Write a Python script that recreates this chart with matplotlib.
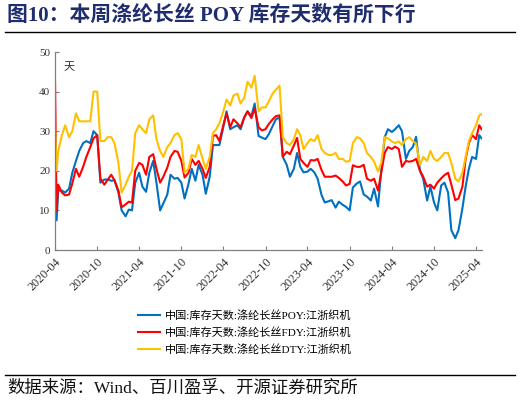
import pandas as pd
import numpy as np
import matplotlib
matplotlib.use("Agg")
import matplotlib.pyplot as plt
from matplotlib.lines import Line2D

plt.rcParams['font.family'] = ['Liberation Serif', 'Noto Sans CJK SC']

# dates: first point, one week later, then semi-monthly, last week
dates = pd.to_datetime(
    ["2020-04-01", "2020-04-08"]
    + [str(d.date()) for d in pd.date_range("2020-04-15", "2025-04-15", freq="SMS")]
    + ["2025-04-25"]
)

poy = [12, 7.5,
       15, 15, 14.5, 15.5, 19.5, 22.5, 25, 27, 27.5, 27,
       30, 29, 17, 17.8, 17.8, 17.5, 17.6, 14.5, 10, 8.5,
       10.2, 10, 17, 19.5, 16, 14.7, 19.5, 22.5, 17, 10,
       11.8, 14, 19, 18, 18.2, 17, 13, 16.7, 20.5, 17.5,
       21.5, 19, 14.2, 18.5, 26.5, 26.5, 26.5, 31, 35, 30.5,
       31, 31.5, 30.5, 33.5, 35, 33.8, 37, 28.8, 28.4, 28,
       29.2, 31.3, 33, 33.5, 23.5, 21.5, 18.5, 20.5, 24.5, 21,
       19.6, 19.8, 20.5, 19.6, 18, 13.9, 12, 12.3, 12.6, 10.7,
       12.2, 11.4, 10.9, 10, 15.8, 16.8, 17.3, 14, 13.5, 12.5,
       15.5, 11, 20, 28.5, 30.5, 29.8, 30.5, 31.5, 30, 23,
       25, 26, 28.6, 20, 18, 12.5, 16, 12, 10, 16.3,
       17, 14.5, 5, 3, 5, 10.5, 16, 20.5, 23.5, 23,
       29, 28.2]

fdy = [43, 10,
       16.5, 14.5, 13.8, 14, 16.8, 20.5, 18.5, 21, 23.5, 26,
       28.2, 29, 18, 16.5, 17.7, 19, 17.6, 15, 10.8, 11.5,
       12.2, 12, 20, 22, 21.5, 19, 23.5, 24.2, 20.5, 17,
       18.5, 20.8, 23.5, 25, 24.8, 22.5, 18.3, 19.5, 23, 21.5,
       22.5, 20.5, 18.2, 21, 28.8, 29, 27.5, 31.5, 34.5, 31,
       33, 32, 31, 33.5, 35, 33.3, 35.8, 31, 30.2, 30.5,
       31.8, 33, 33.8, 34, 23.6, 24.8, 24.2, 26.4, 28.3, 23,
       22, 21, 22.7, 22.6, 23, 20.2, 18.5, 18.5, 18.5, 18.8,
       18.2, 17.3, 16.3, 16.7, 21.4, 21, 21, 21.5, 18, 17.5,
       18, 15, 19.5, 24.5, 26, 25.5, 26.1, 25.5, 21, 22.5,
       22.3, 22.5, 23, 20, 18.5, 16, 16.5, 15.5, 17, 18.1,
       18.9, 19.5, 16.5, 12.6, 13, 16, 23, 27, 29, 28,
       31.5, 30.5]

dty = [32, 20,
       25, 29, 31.5, 28.5, 30, 34.5, 32.5, 32.5, 32.5, 32.5,
       40, 40, 27.5, 27.5, 28.5, 28.5, 27, 22, 14.5, 16.5,
       18.5, 20, 29.5, 31.5, 30.5, 29.5, 33, 34, 28, 25,
       23.5, 26, 27, 29, 29.5, 28, 19.5, 20.5, 24, 23.5,
       26.5, 23, 20.5, 23.5, 29.5, 30.5, 32, 35, 38, 36.5,
       39, 39.5, 37, 38.5, 42.5, 41, 44, 35, 36, 36,
       37.5, 39.5, 40.5, 41.5, 28.5, 27, 26.5, 28, 30.5, 29,
       25.5, 27, 28, 27.5, 29, 25.5, 24.5, 24, 24, 24.5,
       23, 23, 22.3, 22.5, 27, 28.5, 28.2, 27, 24.5, 23.5,
       22.3, 19.8, 22, 28.5, 28.2, 27.4, 27, 27.4, 26.5, 28,
       28.5, 27.5, 26.9, 21.5, 23.5, 22.5, 25, 23, 22.5, 23.5,
       24.5, 24.5, 22, 18, 17.3, 19.5, 23.5, 27.5, 29.5, 31.5,
       34, 34.3]

labels = ["中国:库存天数:涤纶长丝POY:江浙织机",
          "中国:库存天数:涤纶长丝FDY:江浙织机",
          "中国:库存天数:涤纶长丝DTY:江浙织机"]
colors = ["#0070C0", "#FF0000", "#FFC000"]

tick_dates = pd.date_range("2020-04-01", "2025-04-01", freq="6MS")

fig = plt.figure(figsize=(5.21, 4.05), dpi=100)
ax = fig.add_axes([55/521, 1-250/405, 427/521, 198/405])

for s, lab, c in zip([poy, fdy, dty], labels, colors):
    ax.plot(dates, s, color=c, lw=1.5, label=lab)

ax.set_xlim(pd.Timestamp("2020-04-01"), pd.Timestamp("2025-04-27"))
ax.set_ylim(0, 50)
ax.set_yticks(range(0, 51, 10))
ax.set_xticks(tick_dates)
ax.set_xticklabels([d.strftime("%Y-%m") for d in tick_dates],
                   rotation=45, ha="right", rotation_mode="anchor", fontsize=8.8)

for sp in ["top", "right"]:
    ax.spines[sp].set_visible(False)
for sp in ["left", "bottom"]:
    ax.spines[sp].set_color("#808080")
    ax.spines[sp].set_linewidth(0.9)
ax.tick_params(direction="in", length=3, width=0.8, color="#808080",
               labelcolor="#333333")
ax.tick_params(axis="y", labelsize=8)
ax.tick_params(axis="x", pad=4)

ax.text(0.033, 0.925, "天", transform=ax.transAxes, fontsize=8,
        ha="center", va="center", color="#333333")

fig.legend(loc="upper left", bbox_to_anchor=(128/521, 1-300/405),
           frameon=False, fontsize=8, handlelength=2.0, handletextpad=0.45,
           labelspacing=0.55)

fig.text(7/521, 1-16/405, "图10：本周涤纶长丝 POY 库存天数有所下行",
         fontsize=15, fontweight="bold", color="#1F2D6E", va="center")
fig.add_artist(Line2D([5/521, 515/521], [1-32/405, 1-32/405], color="black", lw=1))
fig.add_artist(Line2D([5/521, 515/521], [1-375/405, 1-375/405], color="black", lw=1))
fig.text(7/521, 1-389/405, "数据来源：Wind、百川盈孚、开源证券研究所",
         fontsize=12.5, color="#111111", va="center")

fig.savefig("out.png", dpi=100)
